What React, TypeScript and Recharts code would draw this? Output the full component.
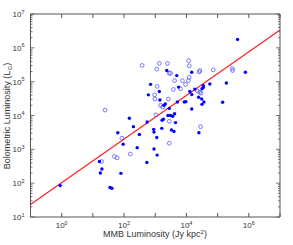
import { ScatterChart, Scatter, XAxis, YAxis, ReferenceLine } from 'recharts'

// log10 values
const filledLogMmb = [
  5.64, 3.37, 3.69, 4.17, 5.89, 2.85, 5.28, 4.75, 3.75, 3.13, 2.78, 3.15, 4.27, 4.11, 4.17,
  4.54, 4.54, 4.5, 4.39, 4.49, 4.56, 4.5, 3.93, 3.98, 3.71, 5.16, 3.32, 3.28, 3.45, 4.17,
  3.41, 3.49, 3.56, 3.62, 3.26, 3.22, 2.74, 3.65, 2.17, 1.8, 2.3, 1.97, 2.49, 2.42, 2.73,
  1.21, 1.29, 1.24, 1.9, 1.55, 1.61, -0.05, 2.95, 2.96, 3.21, 3.05, 3.52, 3.6, 4.4, 2.96, 3.06,
]
const filledLogBol = [
  6.25, 5.33, 5.18, 5.28, 5.28, 4.92, 4.96, 4.93, 4.84, 4.71, 4.61, 4.46, 4.78, 4.71, 4.62,
  4.88, 4.83, 4.79, 4.54, 4.49, 4.4, 4.33, 4.4, 4.41, 4.4, 4.39, 4.34, 4.3, 4.21, 4.19,
  4.0, 4.0, 3.98, 4.05, 3.89, 3.86, 3.81, 3.79, 3.92, 3.49, 3.67, 3.15, 3.44, 3.05, 2.61,
  2.64, 2.42, 2.3, 2.29, 1.87, 1.85, 1.93, 3.59, 3.51, 3.62, 3.35, 3.57, 3.53, 3.49, 3.01, 2.83,
]
const openLogMmb = [
  2.58, 3.13, 3.39, 4.07, 4.09, 3.05, 3.45, 3.49, 4.43, 4.41, 4.86, 5.47, 5.48, 4.09, 4.06,
  3.62, 3.87, 3.06, 3.97, 3.58, 3.81, 2.98, 2.99, 3.42, 4.35, 4.43, 4.47, 3.17, 3.24, 3.02,
  3.45, 1.39, 1.93, 1.69, 1.78, 2.2, 1.28, 4.45, 3.45,
]
const openLogBol = [
  5.48, 5.54, 5.54, 5.62, 5.47, 5.37, 5.25, 5.25, 5.33, 5.29, 5.35, 5.39, 5.33, 5.13, 5.03,
  5.03, 5.03, 4.86, 4.92, 4.77, 4.79, 4.61, 4.49, 4.49, 4.73, 4.69, 4.66, 4.3, 4.25, 4.02,
  3.83, 4.16, 3.33, 2.79, 2.75, 2.86, 2.64, 3.67, 3.18,
]

// fitted relation endpoints (log10)
const fitLogMmb = [-1, 7]
const fitLogBol = [1.37, 6.53]

const xDecades = [-1, 0, 1, 2, 3, 4, 5, 6, 7]
const xLabelled = [0, 2, 4, 6]
const yDecades = [1, 2, 3, 4, 5, 6, 7]
const yMinor = [2, 3, 4, 5, 6, 7, 8, 9]

const yTicks = [
  ...yDecades,
  ...yDecades.slice(0, -1).flatMap((d) => yMinor.map((m) => d + Math.log10(m))),
]

const filled = filledLogMmb.map((x, i) => ({ x, y: filledLogBol[i] }))
const open = openLogMmb.map((x, i) => ({ x, y: openLogBol[i] }))

const AXIS = '#555'
const TEXT = '#333'
const FONT = '"Liberation Sans", Arial, sans-serif'

const isMajor = (v: number) => Math.abs(v - Math.round(v)) < 1e-6

function BottomTick({ x, y, payload }: any) {
  const v = payload.value as number
  return (
    <g>
      <line x1={x} x2={x} y1={y} y2={y - 4} stroke={AXIS} />
      {xLabelled.includes(v) && (
        <text x={x} y={y + 11} textAnchor="middle" fontSize={8} fill={TEXT} fontFamily={FONT}>
          10<tspan dy={-3.5} fontSize={5.5}>{v}</tspan>
        </text>
      )}
    </g>
  )
}

function TopTick({ x, y }: any) {
  return <line x1={x} x2={x} y1={y} y2={y + 4} stroke={AXIS} />
}

function LeftTick({ x, y, payload }: any) {
  const v = payload.value as number
  const major = isMajor(v)
  return (
    <g>
      <line x1={x} x2={x + (major ? 4 : 2)} y1={y} y2={y} stroke={AXIS} strokeWidth={0.8} />
      {major && (
        <text x={x - 6} y={y + 3} textAnchor="end" fontSize={8} fill={TEXT} fontFamily={FONT}>
          10<tspan dy={-3.5} fontSize={5.5}>{Math.round(v)}</tspan>
        </text>
      )}
    </g>
  )
}

function RightTick({ x, y, payload }: any) {
  const major = isMajor(payload.value)
  return <line x1={x} x2={x - (major ? 4 : 2)} y1={y} y2={y} stroke={AXIS} strokeWidth={0.8} />
}

const FilledDot = ({ cx, cy }: any) => <circle cx={cx} cy={cy} r={1.7} fill="#0000ff" />
const OpenDot = ({ cx, cy }: any) => (
  <circle cx={cx} cy={cy} r={1.9} fill="none" stroke="#4444ff" strokeWidth={0.7} />
)

export default function App() {
  return (
    <div style={{ position: 'absolute', left: 0, top: 0, width: 293, height: 245, background: '#fff' }}>
      <ScatterChart width={293} height={245} margin={{ top: 13, right: 12, bottom: 0, left: 0 }}>
        <XAxis
          xAxisId="b"
          type="number"
          dataKey="x"
          domain={[-1, 7]}
          ticks={xDecades}
          allowDataOverflow
          height={28}
          tickSize={0}
          tickMargin={0}
          tickLine={false}
          stroke={AXIS}
          tick={<BottomTick />}
          interval={0}
          label={{
            content: () => (
              <text x={155} y={237} textAnchor="middle" fontSize={9} fill={TEXT} fontFamily={FONT}>
                MMB Luminosity (Jy kpc<tspan dy={-3.5} fontSize={6}>2</tspan><tspan dy={3.5}>)</tspan>
              </text>
            ),
          }}
        />
        <XAxis
          xAxisId="t"
          orientation="top"
          type="number"
          dataKey="x"
          domain={[-1, 7]}
          ticks={xDecades}
          allowDataOverflow
          height={1}
          tickSize={0}
          tickMargin={0}
          tickLine={false}
          stroke={AXIS}
          tick={<TopTick />}
          interval={0}
        />
        <YAxis
          yAxisId="l"
          type="number"
          dataKey="y"
          domain={[1, 7]}
          ticks={yTicks}
          allowDataOverflow
          width={30.5}
          tickSize={0}
          tickMargin={0}
          tickLine={false}
          stroke={AXIS}
          tick={<LeftTick />}
          interval={0}
          label={{
            content: () => (
              <text
                x={0}
                y={0}
                transform="translate(10,116) rotate(-90)"
                textAnchor="middle"
                fontSize={9}
                fill={TEXT}
                fontFamily={FONT}
              >
                Bolometric Luminosity (L<tspan dy={2} fontSize={6} fontFamily="DejaVu Sans">⊙</tspan><tspan dy={-2}>)</tspan>
              </text>
            ),
          }}
        />
        <YAxis
          yAxisId="r"
          orientation="right"
          type="number"
          dataKey="y"
          domain={[1, 7]}
          ticks={yTicks}
          allowDataOverflow
          width={1}
          tickSize={0}
          tickMargin={0}
          tickLine={false}
          stroke={AXIS}
          tick={<RightTick />}
          interval={0}
        />
        <ReferenceLine
          xAxisId="b"
          yAxisId="l"
          segment={[
            { x: fitLogMmb[0], y: fitLogBol[0] },
            { x: fitLogMmb[1], y: fitLogBol[1] },
          ]}
          stroke="#ff2020"
          strokeWidth={1.2}
          ifOverflow="hidden"
        />
        <Scatter xAxisId="b" yAxisId="l" data={open} shape={<OpenDot />} isAnimationActive={false} />
        <Scatter xAxisId="b" yAxisId="l" data={filled} shape={<FilledDot />} isAnimationActive={false} />
      </ScatterChart>
    </div>
  )
}
